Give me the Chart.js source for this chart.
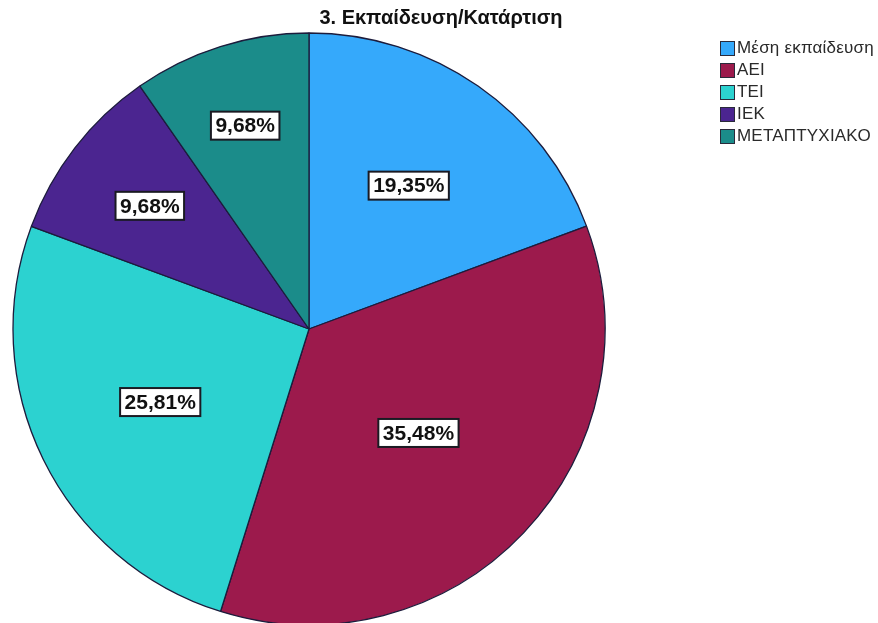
<!DOCTYPE html>
<html>
<head>
<meta charset="utf-8">
<title>3. Εκπαίδευση/Κατάρτιση</title>
<script src="https://cdn.jsdelivr.net/npm/chart.js@4/dist/chart.umd.min.js"></script>
<style>
  html, body { margin: 0; padding: 0; background: #ffffff; }
  #wrap { position: relative; width: 878px; height: 623px; overflow: hidden; font-family: "Liberation Sans", Arial, sans-serif; }
  #chart { position: absolute; left: 0; top: 0; }
  #title { position: absolute; left: 0; width: 882px; top: 6px; text-align: center; font-weight: bold; font-size: 20px; color: #111; }
  #legend { position: absolute; left: 720px; top: 37px; }
  .row { height: 22px; display: flex; align-items: center; font-size: 17px; color: #2a2a2a; white-space: nowrap; letter-spacing: 0.2px; }
  .swatch { width: 15px; height: 15px; box-sizing: border-box; border: 1px solid #2a2a3a; margin-right: 2px; }
</style>
</head>
<body>
<div id="wrap">
  <canvas id="chart" width="878" height="623"></canvas>
  <div id="title">3. Εκπαίδευση/Κατάρτιση</div>
  <div id="legend"></div>
</div>
<script>
// Education / training levels and their share of respondents (%)
const categories = ['Μέση εκπαίδευση', 'ΑΕΙ', 'ΤΕΙ', 'ΙΕΚ', 'ΜΕΤΑΠΤΥΧΙΑΚΟ'];
const percentages = [19.35, 35.48, 25.81, 9.68, 9.68];
const sliceColors = ['#35a9fb', '#9c1a4c', '#2cd2d0', '#4b2590', '#1b8c8a'];

// How far out along each slice's middle the value box sits (fraction of radius)
const labelRadiusFraction = [0.59, 0.51, 0.56, 0.68, 0.72];

function formatPercent(v) {
  return v.toFixed(2).replace('.', ',') + '%';
}

// Legend built from the same arrays
const legendEl = document.getElementById('legend');
categories.forEach((name, i) => {
  const row = document.createElement('div');
  row.className = 'row';
  const sw = document.createElement('div');
  sw.className = 'swatch';
  sw.style.background = sliceColors[i];
  const txt = document.createElement('span');
  txt.textContent = name;
  row.appendChild(sw);
  row.appendChild(txt);
  legendEl.appendChild(row);
});

// Boxed value labels drawn on top of each slice
const boxedLabels = {
  id: 'boxedLabels',
  afterDatasetsDraw(chart) {
    const ctx = chart.ctx;
    const meta = chart.getDatasetMeta(0);
    const values = chart.data.datasets[0].data;
    ctx.save();
    ctx.font = 'bold 21px "Liberation Sans", Arial, sans-serif';
    ctx.textAlign = 'center';
    ctx.textBaseline = 'middle';
    meta.data.forEach((arc, i) => {
      const p = arc.getProps(['x', 'y', 'startAngle', 'endAngle', 'outerRadius'], true);
      const mid = (p.startAngle + p.endAngle) / 2;
      const r = p.outerRadius * labelRadiusFraction[i];
      const cx = p.x + Math.cos(mid) * r;
      const cy = p.y + Math.sin(mid) * r;
      const text = formatPercent(values[i]);
      const w = ctx.measureText(text).width + 9;
      const h = 28;
      ctx.fillStyle = '#ffffff';
      ctx.fillRect(cx - w / 2, cy - h / 2, w, h);
      ctx.lineWidth = 2;
      ctx.strokeStyle = '#1a1a22';
      ctx.strokeRect(cx - w / 2, cy - h / 2, w, h);
      ctx.fillStyle = '#111111';
      ctx.fillText(text, cx, cy + 1);
    });
    ctx.restore();
  }
};

new Chart(document.getElementById('chart'), {
  type: 'pie',
  data: {
    labels: categories,
    datasets: [{
      data: percentages,
      backgroundColor: sliceColors,
      borderColor: '#1c1c3c',
      borderWidth: 1.3,
      hoverOffset: 0
    }]
  },
  options: {
    responsive: false,
    animation: false,
    devicePixelRatio: 1,
    radius: 296,
    layout: { padding: { left: 0, right: 260, top: 35, bottom: 0 } },
    plugins: {
      legend: { display: false },
      title: { display: false },
      tooltip: { enabled: false }
    }
  },
  plugins: [boxedLabels]
});
</script>
</body>
</html>
